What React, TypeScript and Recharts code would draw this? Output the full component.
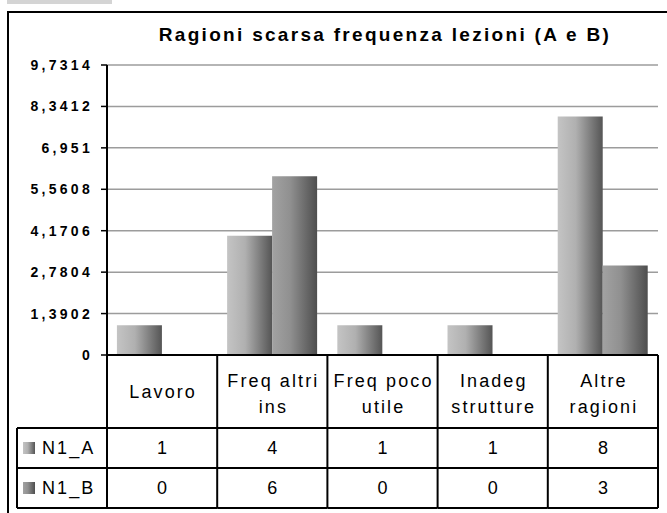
import React from 'react';
import { BarChart, Bar, XAxis, YAxis, CartesianGrid } from 'recharts';

const categories = [
  ['Lavoro'],
  ['Freq altri', 'ins'],
  ['Freq poco', 'utile'],
  ['Inadeg', 'strutture'],
  ['Altre', 'ragioni'],
];
const seriesNames = ['N1_A', 'N1_B'];
const n1A = [1, 4, 1, 1, 8];
const n1B = [0, 6, 0, 0, 3];
const yTicks = [0, 1.3902, 2.7804, 4.1706, 5.5608, 6.951, 8.3412, 9.7314];
const yTickLabels = ['0', '1,3902', '2,7804', '4,1706', '5,5608', '6,951', '8,3412', '9,7314'];

const W = 667;
const H = 513;
const Y_AXIS_W = 60;
const margin = { top: 65, right: 9, left: 107 - Y_AXIS_W, bottom: 0 };
const PLOT_W = W - 107 - margin.right;
const HEADER_H = 73;
const ROW_H = 40;
const TABLE_LEFT = 17;
const FONT = '"Liberation Sans", Arial, sans-serif';
const TABLE_FS = 18;
const TABLE_LS = 2.1;

const data = categories.map((lines, i) => ({
  name: lines.join(' '),
  lines,
  a: n1A[i],
  b: n1B[i],
}));

const YTick = (props: any) => {
  const { x, y, payload } = props;
  const label = yTickLabels[yTicks.indexOf(payload.value)];
  return (
    <text x={x + 3} y={y} textAnchor="end" dominantBaseline="central" fontFamily={FONT}
      fontWeight="bold" fontSize={14} letterSpacing={3.3} fill="#000">
      {label}
    </text>
  );
};

const TableTick = (props: any) => {
  const { x, y, index } = props;
  const colW = PLOT_W / categories.length;
  const left = x - colW / 2;
  const right = x + colW / 2;
  const r1 = y + HEADER_H;
  const r2 = r1 + ROW_H;
  const bottom = r2 + ROW_H;
  const lines = categories[index];
  const hc = y + HEADER_H / 2 + (lines.length > 1 ? 2 : 0);
  const vals = [n1A[index], n1B[index]];
  const ln = { stroke: '#000', strokeWidth: 2 };
  const txt = { fontFamily: FONT, fontSize: TABLE_FS, letterSpacing: TABLE_LS, fill: '#000' };
  return (
    <g>
      <line x1={right} y1={y} x2={right} y2={bottom} {...ln} />
      <line x1={left} y1={r1} x2={right} y2={r1} {...ln} />
      <line x1={left} y1={r2} x2={right} y2={r2} {...ln} />
      <line x1={left} y1={bottom} x2={right} y2={bottom} {...ln} />
      {lines.map((t, i) => (
        <text key={i} x={x + TABLE_LS / 2} y={hc + (i - (lines.length - 1) / 2) * 26} textAnchor="middle"
          dominantBaseline="central" {...txt}>{t}</text>
      ))}
      {vals.map((v, i) => (
        <text key={'v' + i} x={x + TABLE_LS / 2} y={r1 + ROW_H * i + ROW_H / 2} textAnchor="middle"
          dominantBaseline="central" {...txt}>{v}</text>
      ))}
      {index === 0 && (
        <g>
          <line x1={left} y1={y} x2={left} y2={bottom} {...ln} />
          <line x1={TABLE_LEFT} y1={r1} x2={left} y2={r1} {...ln} />
          <line x1={TABLE_LEFT} y1={r2} x2={left} y2={r2} {...ln} />
          <line x1={TABLE_LEFT} y1={bottom} x2={left} y2={bottom} {...ln} />
          <line x1={TABLE_LEFT} y1={r1} x2={TABLE_LEFT} y2={bottom} {...ln} />
          {seriesNames.map((s, i) => (
            <g key={s}>
              <rect x={TABLE_LEFT + 6} y={r1 + ROW_H * i + ROW_H / 2 - 6} width={12} height={12}
                fill={i === 0 ? 'url(#gradA)' : 'url(#gradB)'} />
              <text x={TABLE_LEFT + 25} y={r1 + ROW_H * i + ROW_H / 2} dominantBaseline="central"
                {...txt}>{s}</text>
            </g>
          ))}
        </g>
      )}
    </g>
  );
};

export default function App() {
  return (
    <div style={{ position: 'absolute', left: 0, top: 0, width: W, height: H, background: '#fff', overflow: 'hidden' }}>
      <svg width={W} height={H} style={{ position: 'absolute', left: 0, top: 0 }}>
        <rect x={7} y={0} width={105} height={4} fill="#d4d4d4" />
        <rect x={8} y={12} width={W + 20} height={H + 20} fill="none" stroke="#000" strokeWidth={2} />
        <text x={385} y={34} textAnchor="middle" dominantBaseline="central" fontFamily={FONT}
          fontWeight="bold" fontSize={19} letterSpacing={2.3} fill="#000">
          Ragioni scarsa frequenza lezioni (A e B)
        </text>
      </svg>
      <div style={{ position: 'absolute', left: 0, top: 0 }}>
        <BarChart width={W} height={H} data={data} margin={margin} barCategoryGap="9%" barGap={0}>
          <defs>
            <linearGradient id="gradA" x1="0" y1="0" x2="1" y2="0">
              <stop offset="0%" stopColor="#c4c4c4" />
              <stop offset="40%" stopColor="#b0b0b0" />
              <stop offset="100%" stopColor="#555555" />
            </linearGradient>
            <linearGradient id="gradB" x1="0" y1="0" x2="1" y2="0">
              <stop offset="0%" stopColor="#a2a2a2" />
              <stop offset="40%" stopColor="#909090" />
              <stop offset="100%" stopColor="#4e4e4e" />
            </linearGradient>
          </defs>
          <CartesianGrid vertical={false} stroke="#9c9c9c" strokeWidth={1.5} />
          <XAxis dataKey="name" height={158} axisLine={{ stroke: '#000', strokeWidth: 2 }}
            tickLine={false} tickSize={0} tickMargin={0} interval={0} tick={<TableTick />} />
          <YAxis width={Y_AXIS_W} domain={[0, 9.7314]} ticks={yTicks} tick={<YTick />} tickSize={6}
            tickMargin={11} axisLine={{ stroke: '#000', strokeWidth: 2 }}
            tickLine={{ stroke: '#000', strokeWidth: 1.5 }} allowDataOverflow interval={0} />
          <Bar dataKey="a" name={seriesNames[0]} fill="url(#gradA)" isAnimationActive={false} />
          <Bar dataKey="b" name={seriesNames[1]} fill="url(#gradB)" isAnimationActive={false} />
        </BarChart>
      </div>
    </div>
  );
}
